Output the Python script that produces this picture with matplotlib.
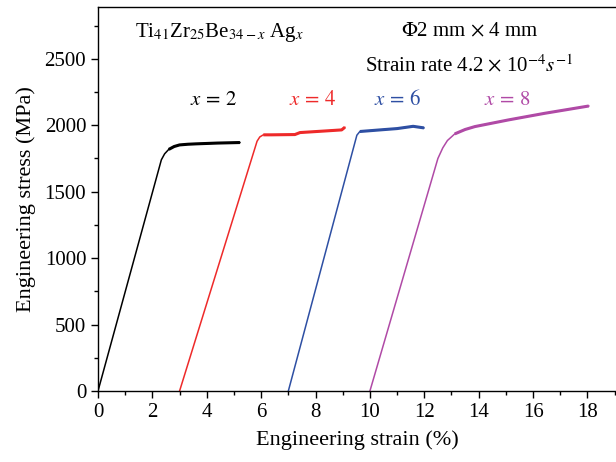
import matplotlib
matplotlib.use("Agg")
import matplotlib.pyplot as plt
from matplotlib.ticker import MultipleLocator

plt.rcParams['font.family'] = ['Liberation Serif', 'DejaVu Serif']
plt.rcParams['mathtext.fontset'] = 'stix'

# strain (%) / stress (MPa)
strain_x2 = [0.0, 2.33, 2.45, 2.6, 2.8, 3.0, 3.3, 3.6, 4.4, 5.22]
stress_x2 = [0, 1740, 1785, 1818, 1840, 1852, 1857, 1860, 1866, 1870]

strain_x4 = [3.0, 5.85, 5.95, 6.08, 6.38, 7.24, 7.43, 8.2, 8.96, 9.08]
stress_x4 = [0, 1880, 1912, 1928, 1928, 1930, 1945, 1955, 1965, 1985]

strain_x6 = [7.0, 9.52, 9.63, 10.37, 11.0, 11.59, 11.99]
stress_x6 = [0, 1925, 1953, 1965, 1975, 1992, 1980]

strain_x8 = [10.0, 12.5, 12.68, 12.85, 13.12, 13.5, 13.86, 15.09, 16.43, 18.05]
stress_x8 = [0, 1750, 1830, 1885, 1935, 1968, 1990, 2040, 2090, 2145]

curves = [
    (strain_x2, stress_x2, 'black', '$x\\,=\\,2$', 4.23, 3),
    (strain_x4, stress_x4, '#ee2a2a', '$x\\,=\\,4$', 7.9, 3),
    (strain_x6, stress_x6, '#2e4fa3', '$x\\,=\\,6$', 11.03, 2),
    (strain_x8, stress_x8, '#b04aa6', '$x\\,=\\,8$', 15.04, 4),
]

fig = plt.figure(figsize=(6.16, 4.62), dpi=100)
ax = fig.add_axes([98/616, 71/462, 1 - 98/616, 384/462])

for sx, sy, col, lab, lx, n in curves:
    ax.plot(sx, sy, color=col, lw=1.1)
    # the plastic part is noisy in the original, draw it a bit heavier
    ax.plot(sx[n:], sy[n:], color=col, lw=2.2, solid_capstyle='butt')
    ax.text(lx, 2190, lab, color=col, fontsize=15, ha='center', va='center')

ax.text(1.36, 2700, 'Ti$_{41}$Zr$_{25}$Be$_{34-x}$ Ag$_x$', fontsize=15,
        ha='left', va='center')
ax.text(13.68, 2700, '$\\Phi$2 mm $\\times$ 4 mm', fontsize=15,
        ha='center', va='center')
ax.text(13.64, 2447, 'Strain rate 4.2 $\\times$ 10$^{-4}s^{-1}$', fontsize=15,
        ha='center', va='center')

ax.set_xlim(0, 19.05)
ax.set_ylim(0, 2890)
ax.xaxis.set_major_locator(MultipleLocator(2))
ax.xaxis.set_minor_locator(MultipleLocator(1))
ax.yaxis.set_major_locator(MultipleLocator(500))
ax.yaxis.set_minor_locator(MultipleLocator(250))
ax.tick_params(which='major', direction='out', length=5, width=1, labelsize=15)
ax.tick_params(which='minor', direction='out', length=3, width=1)
ax.spines['right'].set_visible(False)
for s in ['left', 'bottom', 'top']:
    ax.spines[s].set_linewidth(1.0)

ax.set_xlabel('Engineering strain (%)', fontsize=16, labelpad=6)
ax.set_ylabel('Engineering stress (MPa)', fontsize=16, labelpad=6)

fig.savefig('out.png', dpi=100)
